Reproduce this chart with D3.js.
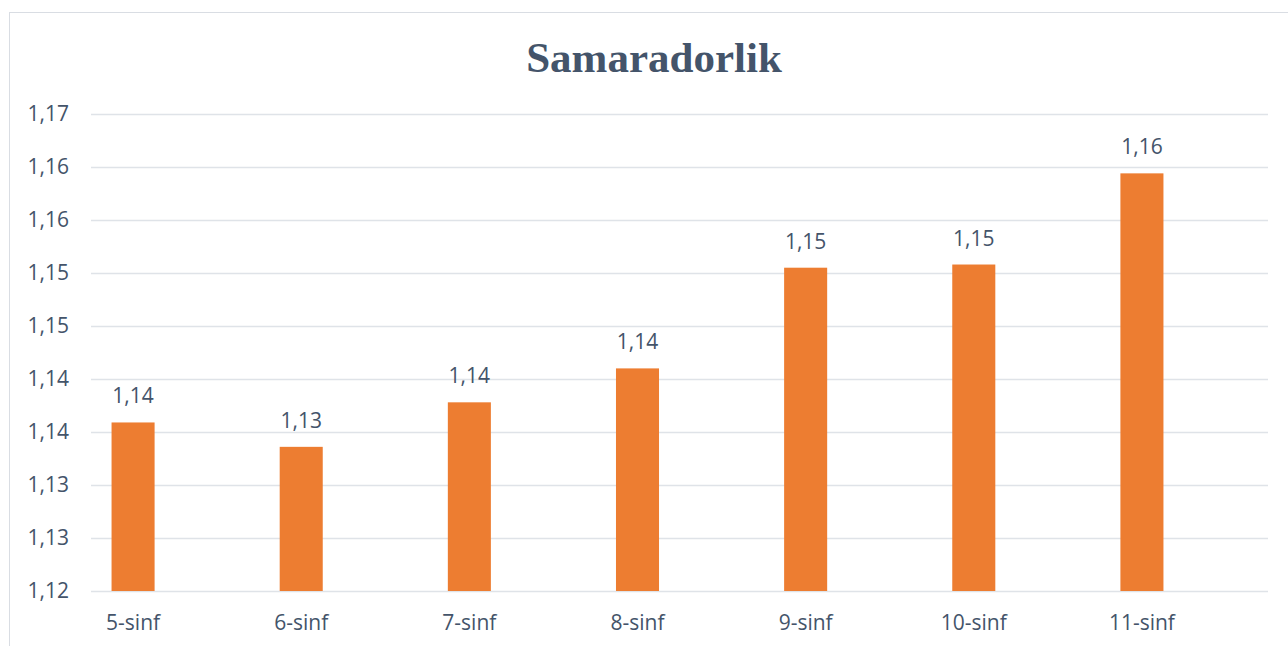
<!DOCTYPE html>
<html>
<head>
<meta charset="utf-8">
<script src="https://cdn.jsdelivr.net/npm/d3@7"></script>
<style>
  body { margin: 0; background: #ffffff; }
  #chart { width: 1288px; height: 646px; }
</style>
</head>
<body>
<div id="chart"></div>
<script>
// chart data
const categories = ["5-sinf", "6-sinf", "7-sinf", "8-sinf", "9-sinf", "10-sinf", "11-sinf"];
const values = [1.1359, 1.1336, 1.1378, 1.1410, 1.1505, 1.1508, 1.1594];
const tickValues = [1.12, 1.125, 1.13, 1.135, 1.14, 1.145, 1.15, 1.155, 1.16, 1.165];
const tickLabels = ["1,12", "1,13", "1,13", "1,14", "1,14", "1,15", "1,15", "1,16", "1,16", "1,17"];
const title = "Samaradorlik";

const width = 1288;
const height = 646;
const margin = { top: 114, right: 20, bottom: 55, left: 91 };
const plotW = 1268 - margin.left;
const plotH = height - margin.top - margin.bottom;

const textColor = "#44546a";
const labelFont = "'Open Sans', 'Liberation Sans', sans-serif";

const svg = d3.select("#chart")
    .append("svg")
    .attr("width", width)
    .attr("height", height);

// chart border
svg.append("rect")
    .attr("x", 9.5)
    .attr("y", 12.5)
    .attr("width", width + 10)
    .attr("height", height + 10)
    .attr("fill", "none")
    .attr("stroke", "#d9dde3")
    .attr("stroke-width", 1);

// title
svg.append("text")
    .attr("x", 654)
    .attr("y", 72)
    .attr("text-anchor", "middle")
    .attr("font-family", "'Liberation Serif', 'Times New Roman', serif")
    .attr("font-weight", "bold")
    .attr("font-size", "43px")
    .attr("fill", textColor)
    .text(title);

const g = svg.append("g")
    .attr("transform", `translate(${margin.left},${margin.top})`);

// categories sit a bit left of the gridline span (empty second slot on the right)
const x = d3.scaleBand()
    .domain(categories)
    .range([-42, plotW - 42])
    .paddingInner(0.744)
    .paddingOuter(0.372);

const y = d3.scaleLinear()
    .domain([1.12, 1.165])
    .range([plotH, 0]);

// gridlines
g.selectAll(".grid-line")
    .data(tickValues)
    .enter()
    .append("line")
    .attr("class", "grid-line")
    .attr("x1", 0)
    .attr("x2", plotW)
    .attr("y1", d => Math.round(y(d)) + 0.5)
    .attr("y2", d => Math.round(y(d)) + 0.5)
    .attr("stroke", "#dfe3e8")
    .attr("stroke-width", 1.5);

// y axis
g.append("g")
    .call(d3.axisLeft(y)
        .tickValues(tickValues)
        .tickFormat((d, i) => tickLabels[i])
        .tickSize(0)
        .tickPadding(22))
    .call(g => g.select(".domain").remove())
    .call(g => g.selectAll(".tick text")
        .attr("fill", textColor)
        .attr("font-family", labelFont)
        .attr("font-size", "21px"));

// x axis
g.append("g")
    .attr("transform", `translate(0,${plotH})`)
    .call(d3.axisBottom(x).tickSize(0).tickPadding(24))
    .call(g => g.select(".domain").remove())
    .call(g => g.selectAll(".tick text")
        .attr("fill", textColor)
        .attr("font-family", labelFont)
        .attr("font-size", "21px"));

// bars
g.selectAll(".bar")
    .data(values)
    .enter()
    .append("rect")
    .attr("class", "bar")
    .attr("x", (d, i) => x(categories[i]))
    .attr("y", d => y(d))
    .attr("width", x.bandwidth())
    .attr("height", d => plotH - y(d))
    .attr("fill", "#ed7d31");

// value labels
g.selectAll(".value-label")
    .data(values)
    .enter()
    .append("text")
    .attr("class", "value-label")
    .attr("x", (d, i) => x(categories[i]) + x.bandwidth() / 2)
    .attr("y", d => y(d) - 19)
    .attr("text-anchor", "middle")
    .attr("fill", textColor)
    .attr("font-family", labelFont)
    .attr("font-size", "21px")
    .text(d => d.toFixed(2).replace(".", ","));
</script>
</body>
</html>
